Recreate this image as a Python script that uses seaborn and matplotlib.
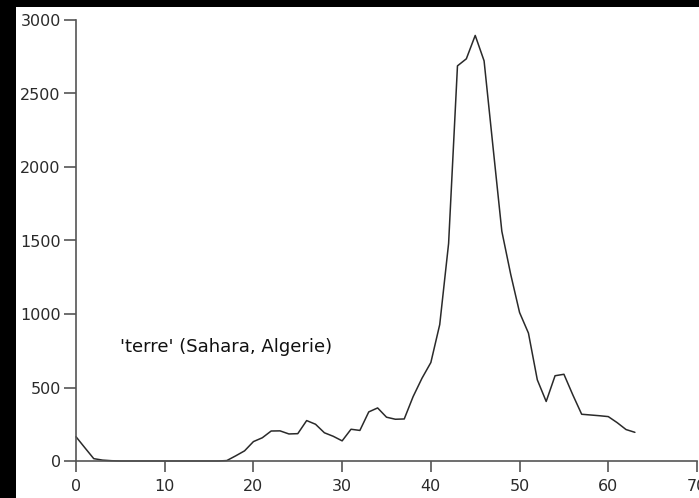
import numpy as np
import pandas as pd
import matplotlib
matplotlib.use("Agg")
import matplotlib.pyplot as plt
import seaborn as sns
from matplotlib.patches import Rectangle

# Counts per class index for the 'terre' sample
index = list(range(0, 64))
counts = [
    165, 90, 16, 6, 2, 0, 0, 0, 0, 0,
    0, 0, 0, 0, 0, 0, 0, 3, 35, 69,
    132, 158, 204, 205, 184, 186, 275, 250, 192, 168,
    137, 216, 208, 334, 361, 298, 284, 286, 438, 563,
    670, 928, 1480, 2688, 2736, 2895, 2722, 2140, 1563, 1270,
    1010, 870, 552, 405, 580, 590, 450, 318, 313, 308,
    302, 261, 214, 195,
]
label_text = "'terre' (Sahara, Algerie)"
x_ticks = [0, 10, 20, 30, 40, 50, 60, 70]
y_ticks = [0, 500, 1000, 1500, 2000, 2500, 3000]

df = pd.DataFrame({"index": index, "count": counts})

sns.set_style("ticks")
plt.rcParams["font.family"] = ["DejaVu Sans"]

W, H = 699, 498
fig = plt.figure(figsize=(W / 100, H / 100), dpi=100, facecolor="black")
# white sheet behind the plot, leaving dark margins at top and left
sheet = Rectangle((16 / W, 0), 1 - 16 / W, (H - 7) / H,
                  transform=fig.transFigure, facecolor="white",
                  edgecolor="none", zorder=-10)
fig.patches.append(sheet)

ax = fig.add_axes([76 / W, 37 / H, (697 - 76) / W, (461 - 20) / H])
ax.set_facecolor("none")
ax.set_zorder(5)

sns.lineplot(data=df, x="index", y="count", ax=ax, color="#2a2a2a",
             linewidth=1.1, clip_on=False)

ax.set_xlim(0, 70)
ax.set_ylim(0, 3000)
ax.set_xticks(x_ticks)
ax.set_yticks(y_ticks)
ax.set_xlabel("")
ax.set_ylabel("")

for side in ("top", "right"):
    ax.spines[side].set_visible(False)
for side in ("left", "bottom"):
    ax.spines[side].set_color("#555555")
    ax.spines[side].set_linewidth(1.2)

ax.tick_params(axis="x", direction="out", length=8, width=1.2, color="#555555",
               labelsize=11.5, labelcolor="#2a2a2a", pad=5)
ax.tick_params(axis="y", direction="out", length=9, width=1.2, color="#555555",
               labelsize=11.5, labelcolor="#2a2a2a", pad=2)

ax.text(5, 775, label_text, ha="left", va="center", fontsize=13,
        color="#111111")

fig.savefig("out.png", dpi=100, facecolor=fig.get_facecolor())
